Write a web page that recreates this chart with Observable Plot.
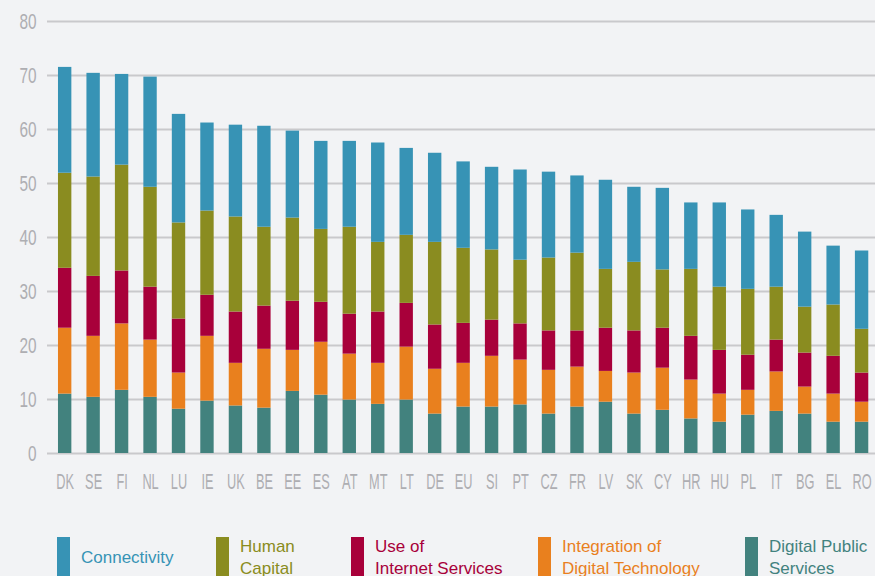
<!DOCTYPE html>
<html>
<head>
<meta charset="utf-8">
<script src="https://cdn.jsdelivr.net/npm/d3@7"></script>
<script src="https://cdn.jsdelivr.net/npm/@observablehq/plot@0.6"></script>
<style>
  html, body { margin: 0; padding: 0; background: #f2f3f5; }
  #chart { width: 875px; }
  #legend { position: relative; width: 875px; height: 46px; overflow: visible;
    font-family: "Liberation Sans", Arial, sans-serif; font-size: 17px; line-height: 22px; }
  .item { position: absolute; top: 7px; display: flex; align-items: flex-start; }
  .sw { width: 13px; height: 42px; margin-right: 11px; flex: none; }
  .lab { display: flex; flex-direction: column; justify-content: center; height: 42px; white-space: nowrap; }
</style>
</head>
<body>
<div id="chart"></div>
<div id="legend"></div>
<script>
const countries = ["DK","SE","FI","NL","LU","IE","UK","BE","EE","ES","AT","MT","LT","DE","EU","SI","PT","CZ","FR","LV","SK","CY","HR","HU","PL","IT","BG","EL","RO"];
const digitalPublic = [11.0,10.4,11.7,10.4,8.2,9.7,8.8,8.4,11.5,10.8,9.9,9.1,9.9,7.3,8.6,8.6,9.0,7.3,8.6,9.5,7.3,8.0,6.4,5.8,7.1,7.8,7.3,5.8,5.8];
const integration   = [12.2,11.3,12.3,10.6,6.7,12.0,7.9,10.9,7.6,9.8,8.5,7.6,9.8,8.3,8.1,9.4,8.3,8.1,7.4,5.7,7.6,7.8,7.2,5.2,4.6,7.3,5.0,5.2,3.7];
const useInternet   = [11.1,11.1,9.8,9.8,10.0,7.6,9.5,8.0,9.1,7.4,7.4,9.5,8.1,8.2,7.4,6.7,6.7,7.3,6.7,8.0,7.8,7.4,8.1,8.1,6.5,5.9,6.3,7.0,5.4];
const humanCapital  = [17.6,18.4,19.6,18.5,17.8,15.6,17.6,14.6,15.4,13.5,16.1,12.9,12.6,15.3,13.9,13.0,11.8,13.5,14.4,10.9,12.7,10.8,12.4,11.7,12.2,9.8,8.5,9.5,8.1];
const connectivity  = [19.6,19.2,16.8,20.4,20.1,16.3,17.0,18.7,16.1,16.3,15.9,18.4,16.1,16.5,16.0,15.3,16.7,15.9,14.3,16.5,13.9,15.1,12.3,15.6,14.7,13.3,13.9,10.9,14.5];
const seriesNames  = ["Digital Public Services","Integration of Digital Technology","Use of Internet Services","Human Capital","Connectivity"];
const seriesColors = ["#42827e","#e9801e","#a8003a","#8a8c20","#3793b5"];
const yTicks = [0,10,20,30,40,50,60,70,80];

const legendItems = [
  {lines: ["Connectivity"], color: "#3793b5", left: 57},
  {lines: ["Human","Capital"], color: "#8a8c20", left: 216},
  {lines: ["Use of","Internet Services"], color: "#a8003a", left: 351},
  {lines: ["Integration of","Digital Technology"], color: "#e9801e", left: 538},
  {lines: ["Digital Public","Services"], color: "#42827e", left: 745}
];

const seriesValues = [digitalPublic, integration, useInternet, humanCapital, connectivity];
const data = countries.flatMap((c, i) => seriesNames.map((s, j) => ({country: c, series: s, value: seriesValues[j][i]})));

const font = '"Liberation Sans", Arial, sans-serif';

const chart = Plot.plot({
  width: 875,
  height: 530,
  marginLeft: 47,
  marginRight: 0,
  marginTop: 21,
  marginBottom: 77,
  style: {background: "#f2f3f5", fontFamily: font},
  x: {domain: countries, paddingInner: 0.53, paddingOuter: 0.311, align: 0.62, round: false, axis: null},
  y: {domain: [0, 80], axis: null},
  color: {domain: seriesNames, range: seriesColors},
  marks: [
    Plot.ruleY(yTicks, {stroke: "#c9c9cc", strokeWidth: 2}),
    Plot.barY(data, {x: "country", y: "value", fill: "series"}),
    Plot.axisY(yTicks, {tickSize: 0, tickPadding: 11, fontSize: 22, fill: "#aeaeb2", label: null}),
    Plot.axisX({tickSize: 0, tickPadding: 20, fontSize: 22, fill: "#aeaeb2", label: null})
  ]
});
document.getElementById("chart").appendChild(chart);

// condense axis tick labels horizontally (no condensed face installed)
function condense(sel, s) {
  chart.querySelectorAll(sel).forEach(t => {
    const tr = t.getAttribute("transform");
    if (tr) {
      t.setAttribute("transform", tr + ` scale(${s},1)`);
    } else {
      const x = +t.getAttribute("x") || 0;
      t.setAttribute("x", x / s);
      t.setAttribute("transform", `scale(${s},1)`);
    }
  });
}
condense('g[aria-label="x-axis tick label"] text', 0.58);
condense('g[aria-label="y-axis tick label"] text', 0.7);

const legend = document.getElementById("legend");
for (const it of legendItems) {
  const item = document.createElement("div");
  item.className = "item";
  item.style.left = it.left + "px";
  const sw = document.createElement("div");
  sw.className = "sw";
  sw.style.background = it.color;
  const lab = document.createElement("div");
  lab.className = "lab";
  lab.style.color = it.color;
  for (const l of it.lines) {
    const s = document.createElement("span");
    s.textContent = l;
    lab.appendChild(s);
  }
  item.appendChild(sw);
  item.appendChild(lab);
  legend.appendChild(item);
}
</script>
</body>
</html>
